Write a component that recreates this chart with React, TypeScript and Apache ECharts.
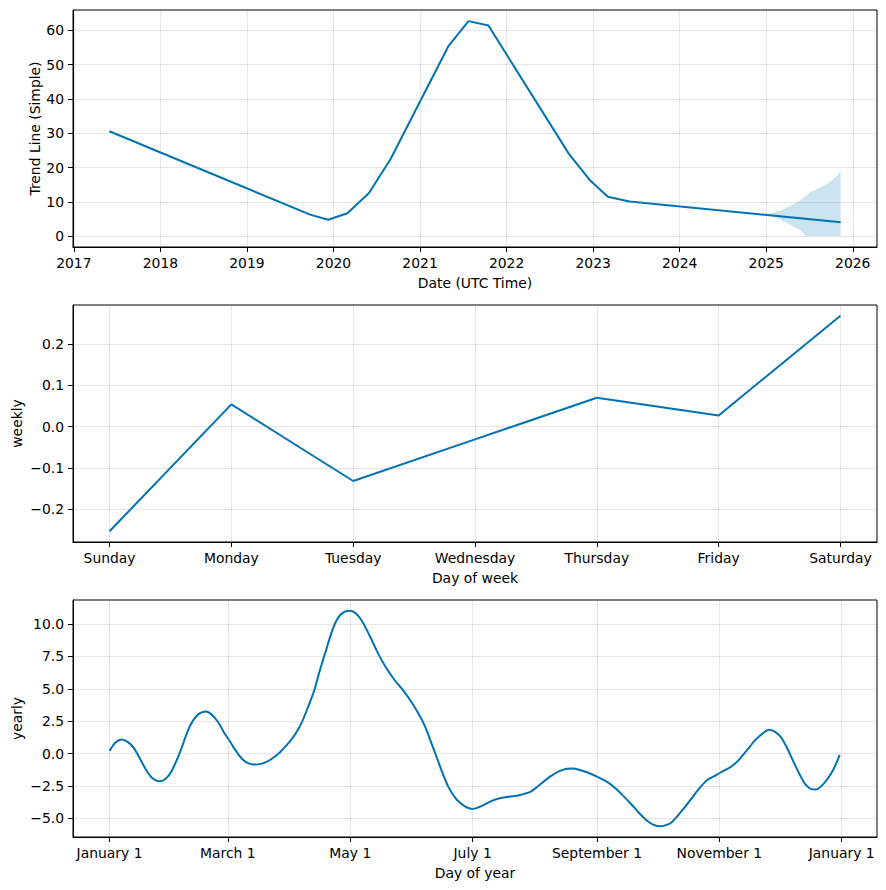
import React, { useEffect, useRef } from "react";
import * as echarts from "echarts";

// ---- Trend panel ----
const trendDates = [2017.41, 2019.73, 2019.94, 2020.16, 2020.41, 2020.66, 2021.33, 2021.56, 2021.79, 2022.72, 2022.96, 2023.17, 2023.42, 2025.01, 2025.86];
const trendValues = [30.6, 6.3, 4.8, 6.7, 12.6, 22.5, 55.5, 62.7, 61.4, 24.0, 16.4, 11.5, 10.1, 6.2, 4.1];
const bandDates = [2025.0, 2025.08, 2025.17, 2025.28, 2025.4, 2025.46, 2025.51, 2025.63, 2025.74, 2025.82, 2025.86];
const bandLower = [6.1, 5.5, 4.8, 3.3, 1.7, 0.1, 0, 0, 0, 0, 0];
const bandUpper = [6.3, 6.9, 7.5, 8.9, 10.6, 11.8, 12.8, 14.3, 15.9, 17.6, 19.2];
const yearTicks = [2017, 2018, 2019, 2020, 2021, 2022, 2023, 2024, 2025, 2026];
const trendYTicks = [0, 10, 20, 30, 40, 50, 60];

// ---- Weekly panel ----
const weekDays = ["Sunday", "Monday", "Tuesday", "Wednesday", "Thursday", "Friday", "Saturday"];
const weekTicks = [0, 1, 2, 3, 4, 5, 6];
const weeklyValues = [-0.254, 0.054, -0.132, -0.031, 0.07, 0.027, 0.269];
const weeklyYTicks = [-0.2, -0.1, 0.0, 0.1, 0.2];

// ---- Yearly panel ----
const yearlyDays = [0, 3, 6, 9, 12, 15, 18, 21, 25, 28, 31, 35, 40, 44, 48, 51, 54, 57, 60, 63, 66, 69, 72, 76, 80, 85, 90, 93, 96, 99, 102, 105, 108, 111, 114, 117, 120, 123, 126, 130, 134, 138, 142, 146, 150, 154, 157, 160, 163, 166, 169, 172, 175, 178, 181, 184, 187, 190, 194, 198, 203, 207, 210, 213, 216, 220, 224, 228, 231, 234, 238, 243, 247, 250, 253, 256, 260, 264, 268, 271, 274, 277, 280, 283, 286, 290, 294, 298, 302, 306, 310, 314, 318, 322, 326, 329, 332, 335, 338, 341, 344, 347, 350, 352, 355, 358, 361, 364];
const yearlyValues = [0.2, 0.85, 1.08, 0.9, 0.45, -0.35, -1.2, -1.85, -2.14, -1.95, -1.35, 0.05, 2.1, 3.0, 3.25, 3.0, 2.45, 1.65, 0.95, 0.2, -0.4, -0.75, -0.85, -0.78, -0.5, 0.1, 0.95, 1.6, 2.45, 3.6, 4.85, 6.5, 8.0, 9.5, 10.5, 10.95, 11.03, 10.8, 10.2, 9.0, 7.7, 6.6, 5.7, 4.95, 4.1, 3.1, 2.2, 1.0, -0.25, -1.5, -2.6, -3.35, -3.85, -4.15, -4.28, -4.15, -3.95, -3.7, -3.48, -3.36, -3.27, -3.1, -2.95, -2.6, -2.22, -1.75, -1.38, -1.18, -1.15, -1.25, -1.45, -1.78, -2.1, -2.4, -2.8, -3.25, -3.9, -4.6, -5.2, -5.5, -5.62, -5.55, -5.35, -4.85, -4.3, -3.5, -2.7, -2.05, -1.7, -1.35, -1.0, -0.45, 0.3, 1.05, 1.6, 1.83, 1.65, 1.2, 0.35, -0.65, -1.6, -2.4, -2.75, -2.78, -2.5, -1.95, -1.2, -0.1];
const monthTickDays = [0, 59, 120, 181, 243, 304, 365];
const monthTickLabels = ["January 1", "March 1", "May 1", "July 1", "September 1", "November 1", "January 1"];
const yearlyYTicks = [-5, -2.5, 0, 2.5, 5, 7.5, 10];

const LINE = "#0072B2";
const FONT = "DejaVu Sans";
const FS = 13.9;
const GRIDLINE = "rgba(128,128,128,0.2)";

const minus = (s: string) => s.replace("-", "\u2212");

function xAxisBase(gridIndex: number, min: number, max: number, ticks: number[], fmt: (v: number) => string, name: string) {
  return {
    type: "value",
    gridIndex,
    min,
    max,
    name,
    nameLocation: "middle",
    nameGap: 29,
    nameMoveOverlap: false,
    nameTextStyle: { color: "#000", fontFamily: FONT, fontSize: FS },
    axisLine: { show: true, onZero: false, lineStyle: { color: "#000", width: 1 } },
    axisTick: { show: true, length: 5, customValues: ticks, lineStyle: { color: "#000" } },
    axisLabel: { color: "#000", fontFamily: FONT, fontSize: FS, margin: 9, customValues: ticks, formatter: fmt, hideOverlap: false },
    splitLine: { show: false },
  };
}

function yAxisBase(gridIndex: number, min: number, max: number, ticks: number[], fmt: (v: number) => string, name: string, gap: number) {
  return {
    type: "value",
    gridIndex,
    min,
    max,
    name,
    nameLocation: "middle",
    nameGap: gap,
    nameMoveOverlap: false,
    nameTextStyle: { color: "#000", fontFamily: FONT, fontSize: FS },
    axisLine: { show: true, onZero: false, lineStyle: { color: "#000", width: 1 } },
    axisTick: { show: true, length: 5, customValues: ticks, lineStyle: { color: "#000" } },
    axisLabel: { color: "#000", fontFamily: FONT, fontSize: FS, margin: 9, customValues: ticks, formatter: fmt, hideOverlap: false },
    splitLine: { show: false },
  };
}

// hidden carrier series that draws the grid lines (below the data) at the tick values
function gridSeries(idx: number, data: number[][], xTicks: number[], yTicks: number[]) {
  return {
    type: "line",
    xAxisIndex: idx,
    yAxisIndex: idx,
    data,
    symbol: "none",
    lineStyle: { opacity: 0 },
    silent: true,
    z: 1,
    markLine: {
      silent: true,
      symbol: "none",
      label: { show: false },
      animation: false,
      lineStyle: { color: GRIDLINE, type: "solid", width: 1 },
      emphasis: { disabled: true },
      data: [...xTicks.map((v) => ({ xAxis: v })), ...yTicks.map((v) => ({ yAxis: v }))],
    },
  };
}

export default function App() {
  const ref = useRef<HTMLDivElement>(null);
  useEffect(() => {
    if (!ref.current) return;
    const chart = echarts.init(ref.current, null, { renderer: "svg" });
    const gridCommon = { left: 73, right: 9, height: 237, show: true, borderColor: "#000", borderWidth: 1, backgroundColor: "transparent", containLabel: false };
    const trendData = trendDates.map((d, i) => [d, trendValues[i]]);
    const weeklyData = weeklyValues.map((v, i) => [weekTicks[i], v]);
    const yearlyData = yearlyDays.map((d, i) => [d, yearlyValues[i]]);
    chart.setOption({
      animation: false,
      textStyle: { fontFamily: FONT },
      grid: [
        { ...gridCommon, top: 10 },
        { ...gridCommon, top: 305 },
        { ...gridCommon, top: 600 },
      ],
      xAxis: [
        xAxisBase(0, 2016.99, 2026.28, yearTicks, (v: number) => String(Math.round(v)), "Date (UTC Time)"),
        xAxisBase(1, -0.3, 6.3, weekTicks, (v: number) => weekDays[Math.round(v)] ?? "", "Day of week"),
        xAxisBase(2, -18.2, 382.6, monthTickDays, (v: number) => monthTickLabels[monthTickDays.indexOf(Math.round(v))] ?? "", "Day of year"),
      ],
      yAxis: [
        yAxisBase(0, -3.14, 65.94, trendYTicks, (v: number) => minus(String(Math.round(v))), "Trend Line (Simple)", 31),
        yAxisBase(1, -0.28, 0.295, weeklyYTicks, (v: number) => minus(v.toFixed(1)), "weekly", 49),
        yAxisBase(2, -6.45, 11.86, yearlyYTicks, (v: number) => minus(v.toFixed(1)), "yearly", 49),
      ],
      series: [
        gridSeries(0, trendData, yearTicks, trendYTicks),
        gridSeries(1, weeklyData, weekTicks, weeklyYTicks),
        gridSeries(2, yearlyData, monthTickDays, yearlyYTicks),
        {
          type: "custom",
          xAxisIndex: 0,
          yAxisIndex: 0,
          z: 2,
          silent: true,
          data: bandDates.map((d, i) => [d, bandLower[i], bandUpper[i]]),
          renderItem: (params: any, api: any) => {
            if (params.dataIndex !== 0) return null;
            const upper = bandDates.map((d, i) => api.coord([d, bandUpper[i]]));
            const lower = bandDates.map((d, i) => api.coord([d, bandLower[i]])).reverse();
            return {
              type: "polygon",
              shape: { points: upper.concat(lower) },
              style: { fill: "rgba(0,114,178,0.2)", stroke: "none" },
            };
          },
        },
        {
          type: "line",
          xAxisIndex: 0,
          yAxisIndex: 0,
          z: 3,
          data: trendData,
          symbol: "none",
          lineStyle: { color: LINE, width: 2 },
        },
        {
          type: "line",
          xAxisIndex: 1,
          yAxisIndex: 1,
          z: 3,
          data: weeklyData,
          symbol: "none",
          lineStyle: { color: LINE, width: 2 },
        },
        {
          type: "line",
          xAxisIndex: 2,
          yAxisIndex: 2,
          z: 3,
          data: yearlyData,
          symbol: "none",
          smooth: 0.3,
          lineStyle: { color: LINE, width: 2 },
        },
      ],
    });
    return () => chart.dispose();
  }, []);
  return <div ref={ref} style={{ position: "fixed", left: 0, top: 0, width: 886, height: 890, background: "#fff" }} />;
}
